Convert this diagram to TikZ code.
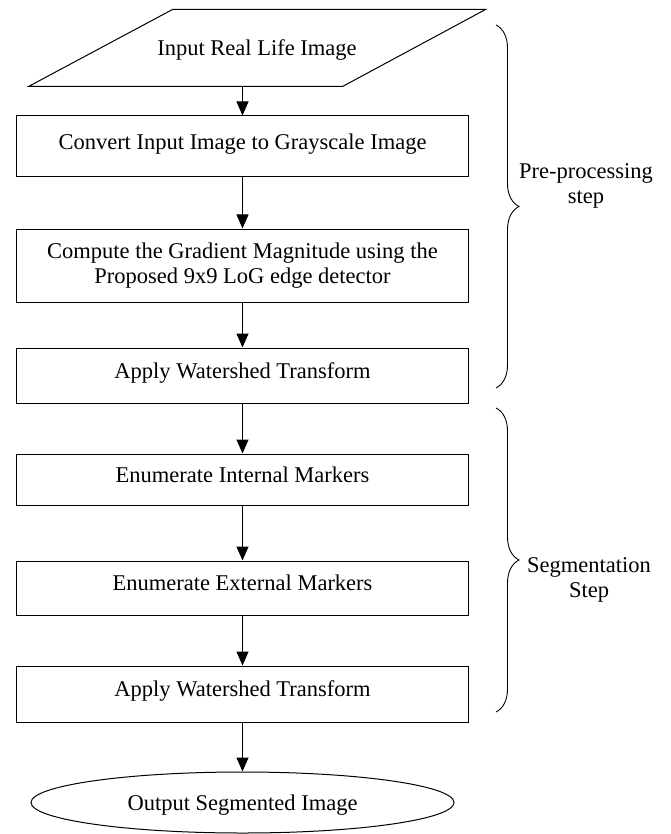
\documentclass[tikz,border=0pt]{standalone}
\usepackage{fontspec}
\setmainfont{Liberation Serif}
\usetikzlibrary{arrows.meta, shapes.geometric, decorations.pathreplacing, calc}

\begin{document}
\begin{tikzpicture}[x=1pt, y=-1pt, line width=1pt,
    every node/.style={font=\fontsize{22.5}{25}\selectfont},
    procbox/.style={rectangle, draw, fill=white, minimum width=452pt, inner sep=0pt, align=center, text depth=10pt},
    flow/.style={-{Triangle[length=14pt, width=12pt]}},
    stepbrace/.style={decorate, decoration={brace, amplitude=23pt}, line width=0.9pt}
]
    \useasboundingbox (0,0) rectangle (670,834);

    % Draw nodes
    \node[minimum width=456pt, minimum height=76pt, inner sep=0pt, text depth=0pt] (input) at (257,48) {Input Real Life Image};
    \draw (input.south west) -- ($(input.south east)+(-143,0)$) -- (input.north east) -- ($(input.north west)+(144,0)$) -- cycle;
    \node[procbox, minimum height=61pt] (gray) at (242.5,146.5) {Convert Input Image to Grayscale Image};
    \node[procbox, minimum height=73pt, text depth=5pt] (grad) at (242.5,265.5) {Compute the Gradient Magnitude using the\\Proposed 9x9 LoG edge detector};
    \node[procbox, minimum height=55pt] (ws1) at (242.5,375.5) {Apply Watershed Transform};
    \node[procbox, minimum height=51pt] (inner) at (242.5,479.5) {Enumerate Internal Markers};
    \node[procbox, minimum height=54pt] (outer) at (242.5,588) {Enumerate External Markers};
    \node[procbox, minimum height=56pt] (ws2) at (242.5,694) {Apply Watershed Transform};
    \node[ellipse, draw, minimum width=423pt, minimum height=61pt, inner sep=0pt, text depth=0pt] (output) at (242.5,802.5) {Output Segmented Image};

    % Draw connections
    \draw[flow] (input.south -| gray.north) -- (gray.north);
    \draw[flow] (gray) -- (grad);
    \draw[flow] (grad) -- (ws1);
    \draw[flow] (ws1) -- (inner);
    \draw[flow] (inner) -- (outer);
    \draw[flow] (outer) -- (ws2);
    \draw[flow] (ws2) -- (output);

    % Braces
    \draw[stepbrace] (496,25) -- (496,388);
    \draw[stepbrace] (496,408) -- (496,712);

    % Labels
    \node[align=center] (pre) at (586,185.5) {Pre-processing\\step};
    \node[align=center] (seg) at (589,579.5) {Segmentation\\Step};
\end{tikzpicture}
\end{document}
